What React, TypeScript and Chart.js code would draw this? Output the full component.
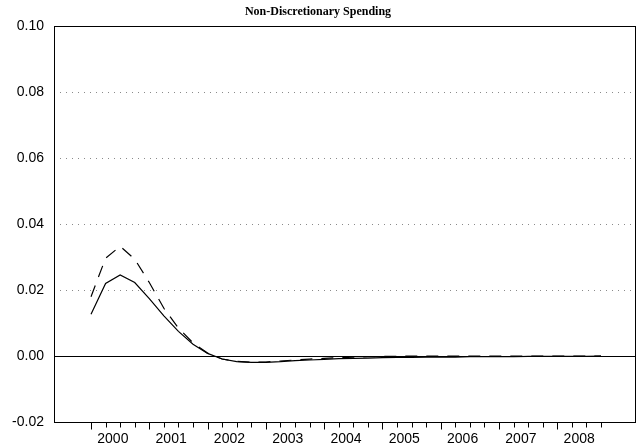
import React, { useEffect, useRef } from "react";
import { Chart, registerables } from "chart.js";

Chart.register(...registerables);

const TITLE = "Non-Discretionary Spending";
const YEARS = ["2000", "2001", "2002", "2003", "2004", "2005", "2006", "2007", "2008"];
const Y_TICKS = [-0.02, 0.0, 0.02, 0.04, 0.06, 0.08, 0.1];

// Quarterly responses, 2000Q1 .. 2008Q4
const SOLID = [
  0.0127, 0.022, 0.0246, 0.0223, 0.0174, 0.0122, 0.0075, 0.0036, 0.0008, -0.0009,
  -0.0017, -0.0019, -0.0019, -0.0017, -0.0014, -0.0012, -0.001, -0.0008, -0.0007, -0.0006,
  -0.0005, -0.0004, -0.0004, -0.0003, -0.0003, -0.0003, -0.0002, -0.0002, -0.0002, -0.0002,
  -0.0001, -0.0001, -0.0001, -0.0001, -0.0001, 0.0,
];
const DASHED = [
  0.018, 0.0297, 0.0333, 0.0294, 0.0223, 0.0145, 0.0085, 0.004, 0.0009, -0.0009,
  -0.0016, -0.0019, -0.0018, -0.0015, -0.0012, -0.0009, -0.0007, -0.0005, -0.0003, -0.0002,
  -0.0001, -0.0001, 0.0, 0.0, 0.0, 0.0, 0.0, 0.0, 0.0, 0.0,
  0.0, 0.0, 0.0, 0.0, 0.0, 0.0,
];

const X_MIN = -2.54;
const X_MAX = 37.4;

const framePlugin = {
  id: "frame",
  beforeDatasetsDraw(chart: any) {
    const { ctx, chartArea, scales } = chart;
    const y0 = scales.y.getPixelForValue(0);
    ctx.save();
    ctx.strokeStyle = "#000";
    ctx.lineWidth = 1;
    ctx.beginPath();
    ctx.moveTo(chartArea.left, Math.round(y0) + 0.5);
    ctx.lineTo(chartArea.right, Math.round(y0) + 0.5);
    ctx.stroke();
    ctx.restore();
  },
  afterDraw(chart: any) {
    const { ctx, chartArea, scales } = chart;
    ctx.save();
    ctx.strokeStyle = "#000";
    ctx.lineWidth = 1;
    ctx.strokeRect(
      Math.round(chartArea.left) + 0.5,
      Math.round(chartArea.top) + 0.5,
      Math.round(chartArea.right - chartArea.left) - 1,
      Math.round(chartArea.bottom - chartArea.top)
    );
    const bottom = Math.round(chartArea.bottom) + 0.5;
    const nQuarters = YEARS.length * 4;
    ctx.beginPath();
    for (let k = 0; k < nQuarters; k++) {
      const px = Math.round(scales.x.getPixelForValue(k)) + 0.5;
      const len = k % 4 === 0 ? 7 : 5;
      ctx.moveTo(px, bottom);
      ctx.lineTo(px, bottom + len);
    }
    ctx.stroke();
    ctx.restore();
  },
};

export default function App() {
  const ref = useRef<HTMLCanvasElement | null>(null);

  useEffect(() => {
    if (!ref.current) return;
    const solidPts = SOLID.map((v, i) => ({ x: i, y: v }));
    const dashedPts = DASHED.map((v, i) => ({ x: i, y: v }));
    const chart = new Chart(ref.current, {
      type: "line",
      data: {
        datasets: [
          {
            label: "solid",
            data: solidPts,
            borderColor: "#000",
            borderWidth: 1.2,
            pointRadius: 0,
            tension: 0,
            fill: false,
          },
          {
            label: "dashed",
            data: dashedPts,
            borderColor: "#000",
            borderWidth: 1.2,
            borderDash: [12, 9],
            pointRadius: 0,
            tension: 0,
            fill: false,
          },
        ],
      },
      options: {
        animation: false,
        responsive: false,
        maintainAspectRatio: false,
        layout: { padding: { left: 0, right: 2, top: 0, bottom: 0 } },
        plugins: {
          legend: { display: false },
          tooltip: { enabled: false },
          title: {
            display: true,
            text: TITLE,
            color: "#000",
            font: { family: "'Liberation Serif', 'Times New Roman', serif", size: 12, weight: "bold" },
            padding: { top: 5, bottom: 7 },
          },
        },
        scales: {
          x: {
            type: "linear",
            min: X_MIN,
            max: X_MAX,
            grid: { display: false, drawTicks: false },
            border: { display: false },
            afterBuildTicks: (axis: any) => {
              axis.ticks = YEARS.map((y, i) => ({ value: i * 4 + 1.5, label: y }));
            },
            afterFit: (axis: any) => {
              axis.height = 25;
            },
            ticks: {
              autoSkip: false,
              maxRotation: 0,
              padding: 9,
              color: "#000",
              font: { family: "'Liberation Sans', Arial, sans-serif", size: 14 },
              callback: (value: any) => {
                const idx = Math.round((Number(value) - 1.5) / 4);
                return YEARS[idx] ?? "";
              },
            },
          },
          y: {
            type: "linear",
            min: -0.02,
            max: 0.1,
            afterBuildTicks: (axis: any) => {
              axis.ticks = Y_TICKS.map((v) => ({ value: v }));
            },
            afterFit: (axis: any) => {
              axis.width = 54;
            },
            grid: {
              drawTicks: false,
              color: (c: any) => (c.tick && Math.abs(c.tick.value) < 1e-9 ? "rgba(0,0,0,0)" : "#8a8a8a"),
              lineWidth: 1,
            },
            border: { display: false, dash: [1, 5] },
            ticks: {
              padding: 10,
              color: "#000",
              font: { family: "'Liberation Sans', Arial, sans-serif", size: 14 },
              callback: (value: any) => Number(value).toFixed(2),
            },
          },
        },
      },
      plugins: [framePlugin],
    });
    return () => chart.destroy();
  }, []);

  return (
    <div style={{ position: "fixed", left: 0, top: 0, width: 638, height: 447, background: "#fff" }}>
      <canvas ref={ref} width={638} height={447} style={{ width: 638, height: 447, display: "block" }} />
    </div>
  );
}
